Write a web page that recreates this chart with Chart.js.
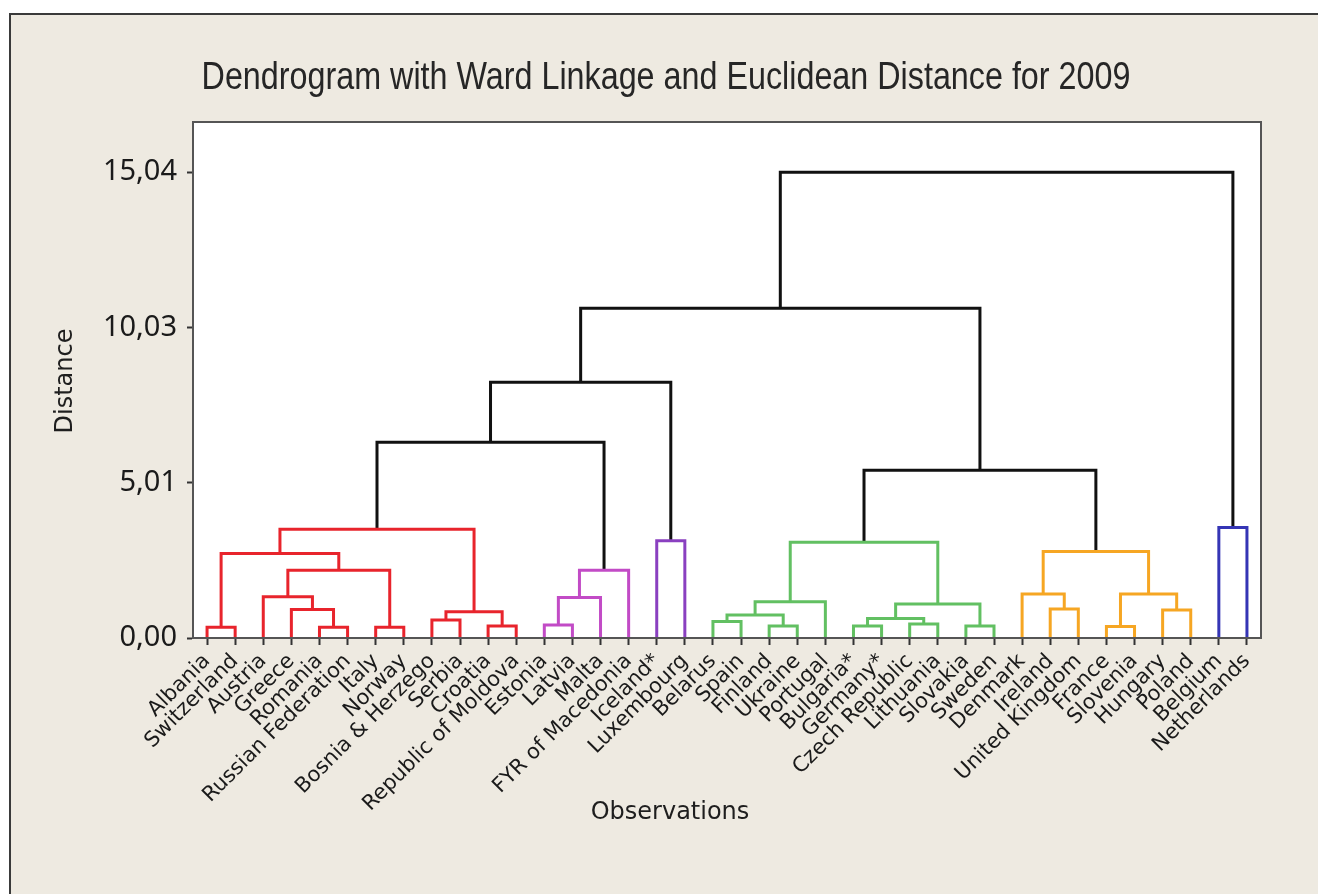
<!DOCTYPE html>
<html><head><meta charset="utf-8">
<script src="https://cdn.jsdelivr.net/npm/chart.js@4/dist/chart.umd.min.js"></script>
<style>html,body{margin:0;padding:0;background:#fff;}</style>
</head><body>
<canvas id="c" width="1318" height="894"></canvas>
<script>
// ---- data ----
const chartTitle = 'Dendrogram with Ward Linkage and Euclidean Distance for 2009';
const xTitle = 'Observations';
const yTitle = 'Distance';

const leaves = ['Albania','Switzerland','Austria','Greece','Romania','Russian Federation','Italy','Norway',
  'Bosnia & Herzego','Serbia','Croatia','Republic of Moldova','Estonia','Latvia','Malta','FYR of Macedonia',
  'Iceland*','Luxembourg','Belarus','Spain','Finland','Ukraine','Portugal','Bulgaria*','Germany*',
  'Czech Republic','Lithuania','Slovakia','Sweden','Denmark','Ireland','United Kingdom','France',
  'Slovenia','Hungary','Poland','Belgium','Netherlands'];

// linkage: nodes 0..37 are leaves, node 38+k is merge k
const linkLeft   = [0, 4, 3, 2, 6, 41, 38, 8, 10, 45, 44, 12, 49, 50, 16, 18, 20, 53, 55, 23, 25, 57, 27, 59, 56, 30, 29, 32, 34, 65, 64, 36, 48, 70, 62, 71, 73];
const linkRight  = [1, 5, 39, 40, 7, 42, 43, 9, 11, 46, 47, 13, 14, 15, 17, 19, 21, 54, 22, 24, 26, 58, 28, 60, 61, 31, 63, 33, 35, 66, 67, 37, 51, 52, 68, 72, 69];
const linkHeight = [0.35, 0.35, 0.92, 1.33, 0.35, 2.19, 2.73, 0.58, 0.39, 0.85, 3.51, 0.42, 1.31, 2.19, 3.14, 0.53, 0.39, 0.74, 1.17, 0.39, 0.45, 0.63, 0.39, 1.10, 3.09, 0.94, 1.42, 0.37, 0.90, 1.42, 2.79, 3.57, 6.32, 8.26, 5.42, 10.65, 15.04];
const linkGroup  = ['red','red','red','red','red','red','red','red','red','red','red',
  'magenta','magenta','magenta','purple',
  'green','green','green','green','green','green','green','green','green','green',
  'orange','orange','orange','orange','orange','orange','blue',
  'black','black','black','black','black'];

const yTickValues = [0, 15.04 / 3, 2 * 15.04 / 3, 15.04];
const yTickLabels = ['0,00', '5,01', '10,03', '15,04'];

// ---- styles ----
const palette = {red:'#E8242C', magenta:'#C24BC6', purple:'#8A40C0', green:'#62C062',
  orange:'#F6A623', blue:'#3535B5', black:'#111111'};

// node positions in data units
const nodeX = leaves.map((_, i) => i + 1);
const nodeY = leaves.map(() => 0);
linkLeft.forEach((l, k) => {
  nodeX.push((nodeX[l] + nodeX[linkRight[k]]) / 2);
  nodeY.push(linkHeight[k]);
});

const datasets = linkLeft.map((l, k) => {
  const r = linkRight[k], h = linkHeight[k];
  return {
    data: [{x: nodeX[l], y: nodeY[l]}, {x: nodeX[l], y: h}, {x: nodeX[r], y: h}, {x: nodeX[r], y: nodeY[r]}],
    borderColor: palette[linkGroup[k]],
    borderWidth: 3,
    showLine: true,
    pointRadius: 0,
    fill: false,
    tension: 0,
    borderJoinStyle: 'miter',
    borderCapStyle: 'butt'
  };
});

const framePlugin = {
  id: 'frame',
  beforeDraw(chart) {
    const ctx = chart.ctx, a = chart.chartArea;
    ctx.save();
    ctx.fillStyle = '#ffffff';
    ctx.fillRect(0, 0, chart.width, chart.height);
    ctx.fillStyle = '#EEEAE1';
    ctx.fillRect(10, 14, chart.width, chart.height);
    ctx.strokeStyle = '#3a3a3a';
    ctx.lineWidth = 2;
    ctx.beginPath();
    ctx.moveTo(10, chart.height + 5); ctx.lineTo(10, 14); ctx.lineTo(chart.width + 5, 14);
    ctx.stroke();
    ctx.fillStyle = '#ffffff';
    ctx.fillRect(a.left, a.top, a.right - a.left, a.bottom - a.top);
    ctx.restore();
  },
  afterDraw(chart) {
    const ctx = chart.ctx, a = chart.chartArea;
    ctx.save();
    ctx.strokeStyle = '#555555';
    ctx.lineWidth = 2;
    ctx.strokeRect(a.left, a.top, a.right - a.left, a.bottom - a.top);
    // main title (condensed)
    ctx.fillStyle = '#262626';
    ctx.textAlign = 'center';
    ctx.textBaseline = 'middle';
    ctx.translate(666, 79);
    ctx.scale(0.85, 1);
    ctx.font = '38px "Liberation Sans", Arial, sans-serif';
    ctx.fillText(chartTitle, 0, 0);
    ctx.restore();
    ctx.save();
    ctx.fillStyle = '#1e1e1e';
    ctx.textAlign = 'center';
    ctx.textBaseline = 'middle';
    ctx.font = '24px "DejaVu Sans", sans-serif';
    ctx.fillText(xTitle, 670, 813);
    ctx.translate(66, 381);
    ctx.rotate(-Math.PI / 2);
    ctx.fillText(yTitle, 0, 0);
    ctx.restore();
  }
};

new Chart(document.getElementById('c'), {
  type: 'scatter',
  data: { datasets },
  plugins: [framePlugin],
  options: {
    responsive: false,
    animation: false,
    devicePixelRatio: 1,
    layout: { padding: { left: 10, right: 57, top: 122, bottom: 0 } },
    plugins: { legend: { display: false }, tooltip: { enabled: false }, title: { display: false } },
    scales: {
      x: {
        type: 'linear', min: 0.5, max: 38.5,
        afterBuildTicks: (s) => { s.ticks = leaves.map((_, i) => ({ value: i + 1 })); },
        afterFit: (s) => { s.height = 894 - 638; },
        ticks: {
          autoSkip: false, minRotation: 45, maxRotation: 45, padding: 4,
          color: '#1a1a1a', font: { family: '"DejaVu Sans", sans-serif', size: 21 },
          callback: (v) => leaves[Math.round(v) - 1]
        },
        grid: { drawOnChartArea: false, drawTicks: true, tickLength: 7, tickColor: '#333', tickWidth: 2 },
        border: { display: true, color: '#555', width: 2 }
      },
      y: {
        type: 'linear', min: 0, max: 16.66,
        afterBuildTicks: (s) => { s.ticks = yTickValues.map(v => ({ value: v })); },
        afterFit: (s) => { s.width = 183; },
        ticks: {
          padding: 10, color: '#1a1a1a', font: { family: '"Noto Sans", sans-serif', size: 29 },
          callback: (v, i) => yTickLabels[i]
        },
        grid: { drawOnChartArea: false, drawTicks: true, tickLength: 6, tickColor: '#333', tickWidth: 2 },
        border: { display: true, color: '#555', width: 2 }
      }
    }
  }
});
</script>
</body></html>
